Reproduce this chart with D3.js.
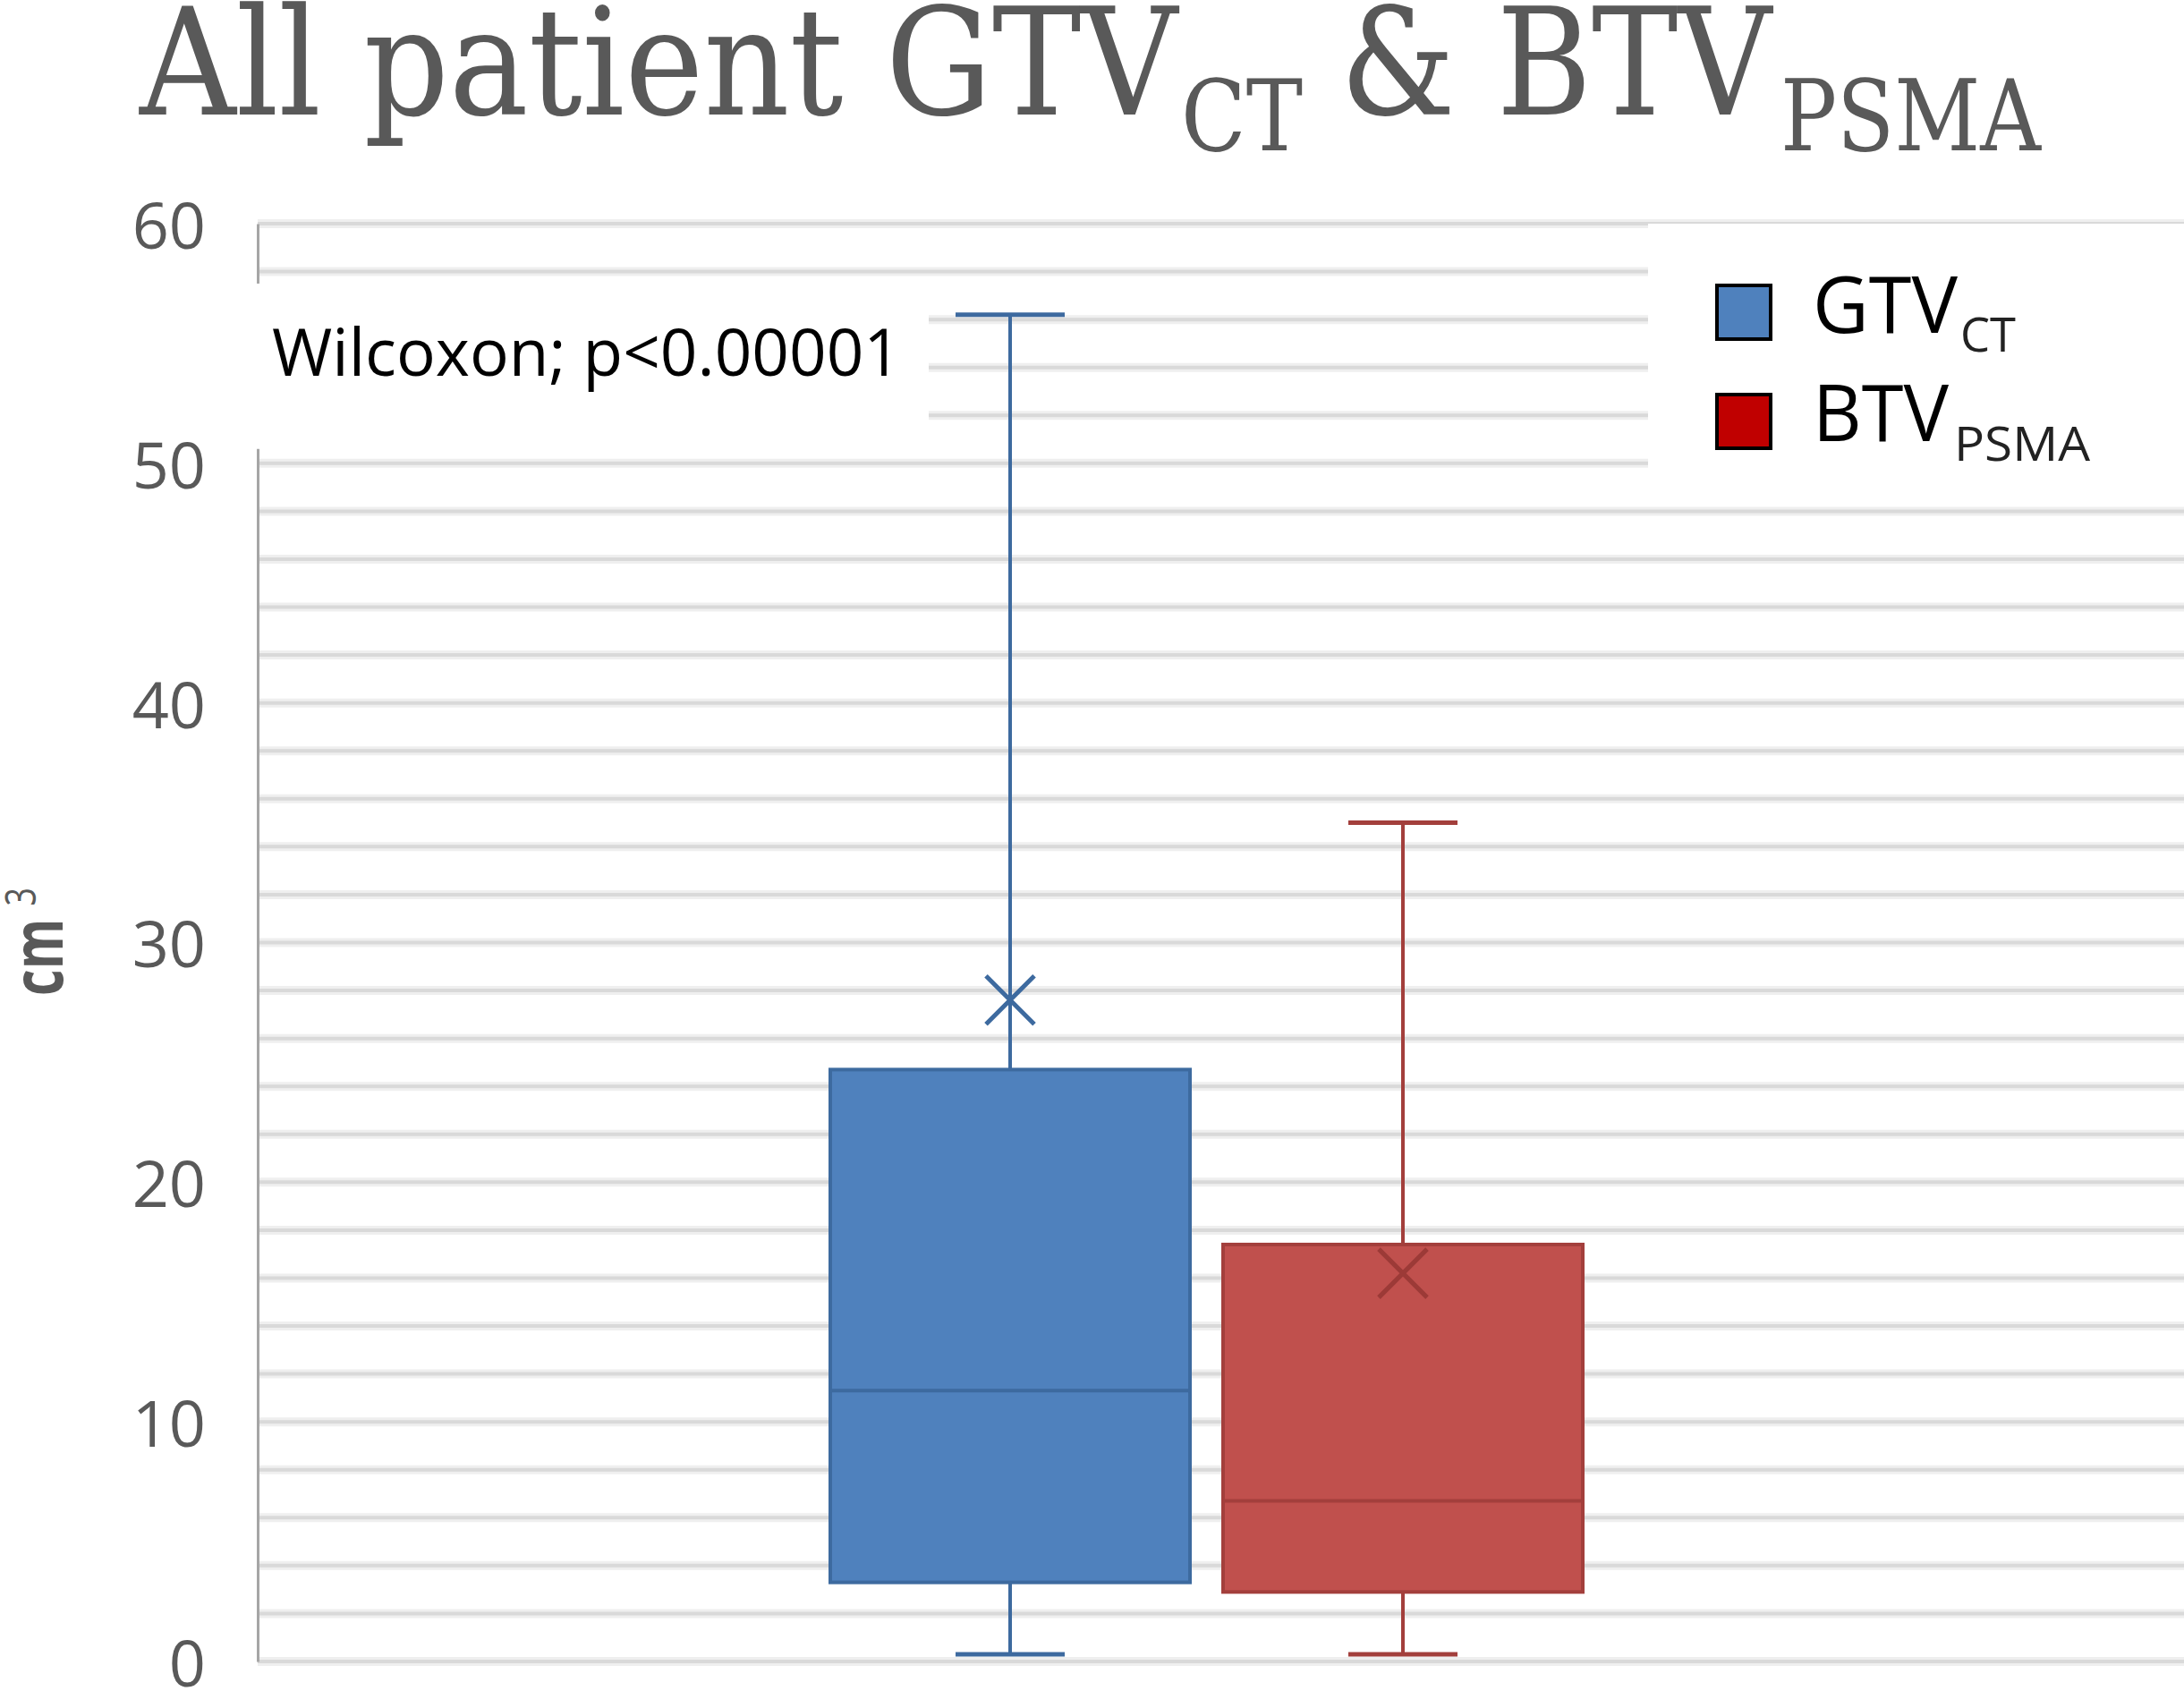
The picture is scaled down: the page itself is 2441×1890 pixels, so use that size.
<!DOCTYPE html>
<html>
<head>
<meta charset="utf-8">
<script src="https://cdn.jsdelivr.net/npm/d3@7/dist/d3.min.js"></script>
<style>
  html, body { margin: 0; padding: 0; background: #fff; }
  svg { display: block; }
</style>
</head>
<body>
<svg id="chart" width="2441" height="1890"></svg>
<script>
// ---- data ----
const series   = ["GTV", "BTV"];
const seriesSub = ["CT", "PSMA"];
const minV  = [0.3, 0.3];
const q1V   = [3.3, 2.9];
const medV  = [11.3, 6.7];
const q3V   = [24.7, 17.4];
const maxV  = [56.2, 35.0];
const meanV = [27.6, 16.2];
const yTicks = [0, 10, 20, 30, 40, 50, 60];
const gridStep = 2;
const statText = "Wilcoxon; p<0.00001";

// ---- styles ----
const fills   = ["#4f81bd", "#c0504d"];
const strokes = ["#3d6a9f", "#a33f3c"];
const legendFills = ["#4f81bd", "#c00000"];

const svg = d3.select("#chart");
const W = 2441, H = 1890;
const plotLeft = 288, plotRight = 2441, plotTop = 250, plotBottom = 1857;

const y = d3.scaleLinear().domain([0, 60]).range([plotBottom, plotTop]);
const x = d3.scalePoint().domain(series).range([1129, 1568]);
const boxW = 402, capW = 122, markR = 27;

// gridlines
const gridVals = d3.range(0, 60 + 0.001, gridStep);
const grid = svg.append("g");
grid.selectAll("line.halo").data(gridVals).join("line")
  .attr("x1", plotLeft).attr("x2", plotRight)
  .attr("y1", d => y(d)).attr("y2", d => y(d))
  .attr("stroke", "#efefef").attr("stroke-width", 10);
grid.selectAll("line.core").data(gridVals).join("line")
  .attr("x1", plotLeft).attr("x2", plotRight)
  .attr("y1", d => y(d)).attr("y2", d => y(d))
  .attr("stroke", "#d9d9d9").attr("stroke-width", 4);

// y axis
const yAxis = svg.append("g")
  .attr("transform", `translate(${plotLeft},0)`)
  .call(d3.axisLeft(y).tickValues(yTicks).tickSize(0).tickPadding(58).tickFormat(d3.format("d")));
yAxis.select(".domain").attr("stroke", "#a6a6a6").attr("stroke-width", 3);
yAxis.selectAll(".tick text")
  .attr("font-family", "'Open Sans', sans-serif")
  .attr("font-size", 72)
  .attr("fill", "#595959")
  .attr("dy", "0.38em");

// y axis title
const yt = svg.append("text")
  .attr("transform", "translate(70,1113) rotate(-90) scale(0.74,1)")
  .attr("font-family", "'Open Sans', sans-serif")
  .attr("fill", "#595959");
yt.append("tspan").attr("font-size", 78).attr("font-weight", "bold").text("cm");
yt.append("tspan").attr("font-size", 48).attr("dx", 19).attr("dy", -30).text("3");

// Wilcoxon label box (covers gridlines)
svg.append("rect").attr("x", 280).attr("y", y(57.5)).attr("width", 1038 - 280)
  .attr("height", y(50.6) - y(57.5)).attr("fill", "#fff");
svg.append("text")
  .attr("x", 304).attr("y", 420)
  .attr("font-family", "'Open Sans', sans-serif")
  .attr("font-size", 73).attr("fill", "#000")
  .attr("textLength", 703).attr("lengthAdjust", "spacingAndGlyphs")
  .text(statText);

// legend box (covers gridlines)
svg.append("rect").attr("x", 1842).attr("y", y(60)).attr("width", W - 1842)
  .attr("height", y(48.3) - y(60)).attr("fill", "#fff");
const legY = [317, 439];
const legBase = [372, 493];
const legTxtLen = [162, 152];
const legSubLen = [62, 152];
const legSubX = [2191, 2184];
series.forEach((s, i) => {
  svg.append("rect").attr("x", 1919).attr("y", legY[i] + 2).attr("width", 60).attr("height", 60)
    .attr("fill", legendFills[i]).attr("stroke", "#000").attr("stroke-width", 4);
  svg.append("text").attr("x", 2026).attr("y", legBase[i])
    .attr("font-family", "'Open Sans', sans-serif").attr("font-size", 87).attr("fill", "#000")
    .attr("textLength", legTxtLen[i]).attr("lengthAdjust", "spacingAndGlyphs").text(s);
  svg.append("text").attr("x", legSubX[i]).attr("y", legBase[i] + (i === 0 ? 21 : 22))
    .attr("font-family", "'Open Sans', sans-serif").attr("font-size", 53).attr("fill", "#222")
    .attr("textLength", legSubLen[i]).attr("lengthAdjust", "spacingAndGlyphs").text(seriesSub[i]);
});

// title
const tFont = "'DejaVu Serif', serif";
const title = svg.append("g").attr("fill", "#595959").attr("font-family", tFont);
title.append("text").attr("x", 156).attr("y", 128).attr("font-size", 166)
  .attr("textLength", 1160).attr("lengthAdjust", "spacingAndGlyphs").text("All patient GTV");
title.append("text").attr("x", 1320).attr("y", 168).attr("font-size", 110)
  .attr("textLength", 136).attr("lengthAdjust", "spacingAndGlyphs").text("CT");
title.append("text").attr("x", 1498).attr("y", 128).attr("font-size", 166)
  .attr("textLength", 482).attr("lengthAdjust", "spacingAndGlyphs").text("& BTV");
title.append("text").attr("x", 1990).attr("y", 168).attr("font-size", 110)
  .attr("textLength", 291).attr("lengthAdjust", "spacingAndGlyphs").text("PSMA");

// box plots
const boxes = series.map((s, i) => ({ s, i, min: minV[i], q1: q1V[i], med: medV[i], q3: q3V[i], max: maxV[i], mean: meanV[i] }));
const bg = svg.append("g").selectAll("g").data(boxes).join("g");

// whiskers
bg.append("line").attr("x1", d => x(d.s)).attr("x2", d => x(d.s))
  .attr("y1", d => y(d.q3)).attr("y2", d => y(d.max))
  .attr("stroke", d => strokes[d.i]).attr("stroke-width", 4);
bg.append("line").attr("x1", d => x(d.s)).attr("x2", d => x(d.s))
  .attr("y1", d => y(d.q1)).attr("y2", d => y(d.min))
  .attr("stroke", d => strokes[d.i]).attr("stroke-width", 4);
bg.append("line").attr("x1", d => x(d.s) - capW / 2).attr("x2", d => x(d.s) + capW / 2)
  .attr("y1", d => y(d.max)).attr("y2", d => y(d.max))
  .attr("stroke", d => strokes[d.i]).attr("stroke-width", 5);
bg.append("line").attr("x1", d => x(d.s) - capW / 2).attr("x2", d => x(d.s) + capW / 2)
  .attr("y1", d => y(d.min)).attr("y2", d => y(d.min))
  .attr("stroke", d => strokes[d.i]).attr("stroke-width", 5);

// box
bg.append("rect").attr("x", d => x(d.s) - boxW / 2).attr("width", boxW)
  .attr("y", d => y(d.q3)).attr("height", d => y(d.q1) - y(d.q3))
  .attr("fill", d => fills[d.i]).attr("stroke", d => strokes[d.i]).attr("stroke-width", 4);
// median
bg.append("line").attr("x1", d => x(d.s) - boxW / 2).attr("x2", d => x(d.s) + boxW / 2)
  .attr("y1", d => y(d.med)).attr("y2", d => y(d.med))
  .attr("stroke", d => strokes[d.i]).attr("stroke-width", 4);
// mean marker (X)
bg.append("path")
  .attr("d", d => {
    const cx = x(d.s), cy = y(d.mean), r = markR;
    return `M${cx - r},${cy - r}L${cx + r},${cy + r}M${cx - r},${cy + r}L${cx + r},${cy - r}`;
  })
  .attr("stroke", d => d.i === 0 ? "#3d6a9f" : "#9c3a37")
  .attr("stroke-width", 5).attr("fill", "none");
</script>
</body>
</html>
